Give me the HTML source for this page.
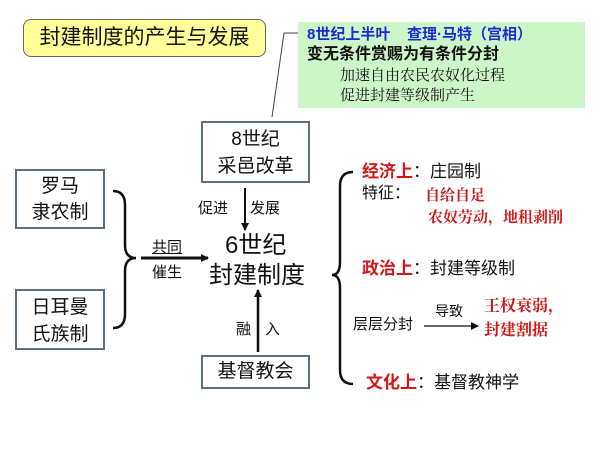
<!DOCTYPE html>
<html><head><meta charset="utf-8"><style>
body{margin:0;width:600px;height:449px;background:#fff;position:relative;overflow:hidden;font-family:"Liberation Sans","Noto Sans CJK SC",sans-serif;color:#111}
.a{position:absolute;white-space:nowrap;line-height:1}
.box{position:absolute;border:2px solid #5a6f80;box-sizing:border-box;text-align:center;background:#fff}
.r{color:#d01818;font-family:"Noto Serif CJK SC",serif;font-weight:bold}
</style></head><body>
<div class="box" style="left:23px;top:19px;width:243px;height:38px;background:#ffff99;border:1px solid #666;border-radius:8px;font-size:21px;line-height:36px">封建制度的产生与发展</div>
<div class="a" style="left:298px;top:22px;width:287px;height:86px;background:#ccf5c8"></div>
<div class="a" style="left:307px;top:27px;font-size:15px;font-weight:bold;color:#1a2ad0">8世纪上半叶&nbsp;&nbsp;&nbsp;&nbsp;查理·马特（宫相）</div>
<div class="a" style="left:307px;top:47px;font-size:16px;font-weight:bold">变无条件赏赐为有条件分封</div>
<div class="a" style="left:340px;top:67px;font-size:15px;font-family:'Noto Serif CJK SC',serif">加速自由农民农奴化过程</div>
<div class="a" style="left:340px;top:87px;font-size:15px;font-family:'Noto Serif CJK SC',serif">促进封建等级制产生</div>
<div class="box" style="left:201px;top:121px;width:109px;height:62px;font-size:19px;line-height:27px;padding-top:3px">8世纪<br>采邑改革</div>
<div class="box" style="left:15px;top:169px;width:90px;height:60px;font-size:19px;line-height:26px;padding-top:3px">罗马<br>隶农制</div>
<div class="box" style="left:15px;top:289px;width:90px;height:61px;font-size:19px;line-height:27px;padding-top:3px">日耳曼<br>氏族制</div>
<div class="box" style="left:201px;top:355px;width:109px;height:34px;font-size:19px;line-height:30px">基督教会</div>
<svg class="a" style="left:0;top:0" width="600" height="449">
<defs><marker id="m" markerWidth="8" markerHeight="8" refX="7" refY="4" orient="auto" markerUnits="userSpaceOnUse"><path d="M0,0L8,4L0,8z" fill="#111"/></marker></defs>
<path d="M298,33H284L272,117" stroke="#444" fill="none"/>
<path d="M113,191Q125,191 125,205V245Q125,258 136,258Q125,258 125,271V314Q125,328 113,328" stroke="#111" stroke-width="2.5" fill="none"/>
<path d="M141,258H208" stroke="#111" stroke-width="3" marker-end="url(#m)"/>
<path d="M245,188V230" stroke="#111" stroke-width="2" marker-end="url(#m)"/>
<path d="M258,352V290" stroke="#111" stroke-width="2.5" marker-end="url(#m)"/>
<path d="M353,172Q340,172 340,186V262Q340,275 332,275Q340,275 340,288V370Q340,384 353,384" stroke="#111" stroke-width="2.5" fill="none"/>
<path d="M424,326H478" stroke="#111" stroke-width="1.2" marker-end="url(#m)"/>
</svg>
<div class="a" style="left:152px;top:240px;font-size:15px;text-decoration:underline">共同</div>
<div class="a" style="left:152px;top:265px;font-size:15px">催生</div>
<div class="a" style="left:198px;top:201px;font-size:15px">促进</div>
<div class="a" style="left:250px;top:201px;font-size:15px">发展</div>
<div class="a" style="left:236px;top:322px;font-size:15px">融</div>
<div class="a" style="left:265px;top:322px;font-size:15px">入</div>
<div class="a" style="left:225px;top:234px;font-size:24px">6世纪</div>
<div class="a" style="left:209px;top:264px;font-size:24px">封建制度</div>
<div class="a" style="left:362px;top:163px;font-size:17px"><span style="color:#d01818;font-weight:bold">经济上</span>：庄园制</div>
<div class="a" style="left:362px;top:186px;font-size:16px">特征：</div>
<div class="a r" style="left:425px;top:187px;font-size:15px">自给自足</div>
<div class="a r" style="left:428px;top:209px;font-size:15px">农奴劳动，地租剥削</div>
<div class="a" style="left:362px;top:260px;font-size:17px"><span style="color:#d01818;font-weight:bold">政治上</span>：封建等级制</div>
<div class="a" style="left:353px;top:317px;font-size:15px">层层分封</div>
<div class="a" style="left:435px;top:304px;font-size:14px">导致</div>
<div class="a r" style="left:484px;top:297px;font-size:16px">王权衰弱，</div>
<div class="a r" style="left:484px;top:321px;font-size:16px">封建割据</div>
<div class="a" style="left:366px;top:374px;font-size:17px"><span style="color:#d01818;font-weight:bold">文化上</span>：基督教神学</div>
</body></html>
